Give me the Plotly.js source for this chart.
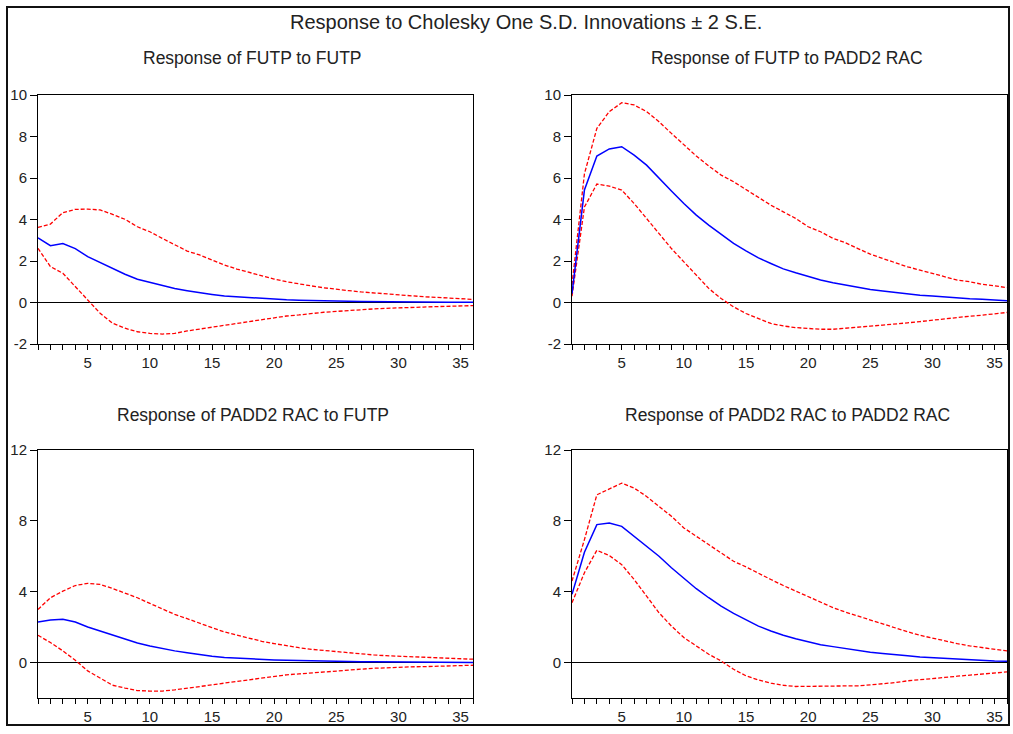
<!DOCTYPE html>
<html>
<head>
<meta charset="utf-8">
<script src="https://cdn.plot.ly/plotly-3.0.1.min.js"></script>
<style>
html, body { margin: 0; padding: 0; background: #ffffff; }
#chart { width: 1013px; height: 734px; }
</style>
</head>
<body>
<div id="chart"></div>
<script>
// Horizon (periods)
const periods = [1,2,3,4,5,6,7,8,9,10,11,12,13,14,15,16,17,18,19,20,21,22,23,24,25,26,27,28,29,30,31,32,33,34,35,36];

const mainTitle = "Response to Cholesky One S.D. Innovations \u00B1 2 S.E.";
const panelTitles = [
  "Response of FUTP to FUTP",
  "Response of FUTP to PADD2 RAC",
  "Response of PADD2 RAC to FUTP",
  "Response of PADD2 RAC to PADD2 RAC"
];

// Panel 1: FUTP to FUTP
const futpFutpResp  = [3.12,2.74,2.84,2.60,2.21,1.92,1.61,1.36,1.12,0.96,0.80,0.67,0.57,0.47,0.39,0.31,0.27,0.22,0.18,0.15,0.13,0.11,0.09,0.08,0.07,0.06,0.05,0.04,0.035,0.03,0.025,0.02,0.015,0.01,0.01,0.01];
const futpFutpUpper = [3.62,3.78,4.33,4.49,4.50,4.46,4.25,4.01,3.65,3.41,3.09,2.77,2.48,2.29,2.05,1.81,1.61,1.44,1.28,1.13,1.00,0.89,0.80,0.71,0.63,0.57,0.51,0.46,0.41,0.36,0.31,0.28,0.25,0.22,0.18,0.15];
const futpFutpLower = [2.61,1.73,1.41,0.76,0.12,-0.52,-1.00,-1.24,-1.41,-1.49,-1.52,-1.49,-1.37,-1.28,-1.16,-1.08,-1.00,-0.89,-0.81,-0.73,-0.65,-0.60,-0.52,-0.47,-0.43,-0.38,-0.35,-0.31,-0.28,-0.27,-0.23,-0.22,-0.20,-0.18,-0.17,-0.15];

// Panel 2: FUTP to PADD2 RAC
const futpRacResp  = [0.43,5.42,7.06,7.40,7.51,7.10,6.62,5.98,5.37,4.77,4.21,3.73,3.30,2.85,2.49,2.15,1.88,1.62,1.43,1.24,1.08,0.95,0.84,0.72,0.63,0.55,0.48,0.42,0.35,0.31,0.26,0.21,0.18,0.16,0.13,0.08];
const futpRacUpper = [0.85,6.20,8.39,9.20,9.63,9.52,9.20,8.71,8.15,7.59,7.06,6.58,6.14,5.82,5.45,5.10,4.69,4.37,4.05,3.65,3.41,3.09,2.88,2.60,2.33,2.12,1.91,1.72,1.56,1.40,1.24,1.08,1.00,0.88,0.80,0.72];
const futpRacLower = [0.30,4.60,5.71,5.61,5.42,4.77,4.05,3.33,2.60,1.96,1.32,0.68,0.19,-0.21,-0.53,-0.77,-1.01,-1.13,-1.21,-1.25,-1.29,-1.29,-1.25,-1.21,-1.14,-1.09,-1.05,-0.98,-0.92,-0.85,-0.79,-0.72,-0.66,-0.61,-0.56,-0.48];

// Panel 3: PADD2 RAC to FUTP
const racFutpResp  = [2.29,2.40,2.44,2.29,2.01,1.78,1.54,1.31,1.11,0.94,0.79,0.66,0.56,0.45,0.36,0.28,0.24,0.21,0.17,0.15,0.13,0.11,0.09,0.08,0.07,0.06,0.05,0.04,0.035,0.03,0.025,0.02,0.015,0.01,0.01,0.01];
const racFutpUpper = [3.00,3.66,4.03,4.35,4.47,4.41,4.18,3.94,3.66,3.34,3.04,2.72,2.48,2.21,1.97,1.73,1.54,1.35,1.20,1.07,0.94,0.84,0.75,0.68,0.60,0.54,0.49,0.43,0.39,0.36,0.32,0.28,0.26,0.23,0.21,0.19];
const racFutpLower = [1.54,1.13,0.66,0.13,-0.47,-0.90,-1.28,-1.44,-1.58,-1.61,-1.61,-1.54,-1.46,-1.37,-1.26,-1.16,-1.07,-0.96,-0.86,-0.77,-0.69,-0.64,-0.58,-0.53,-0.47,-0.41,-0.36,-0.32,-0.30,-0.26,-0.24,-0.23,-0.21,-0.19,-0.17,-0.15];

// Panel 4: PADD2 RAC to PADD2 RAC
const racRacResp  = [3.85,6.23,7.79,7.88,7.69,7.13,6.57,6.00,5.35,4.75,4.17,3.66,3.19,2.78,2.40,2.06,1.78,1.54,1.35,1.18,1.01,0.90,0.79,0.68,0.58,0.51,0.43,0.38,0.32,0.28,0.23,0.19,0.17,0.15,0.09,0.08];
const racRacUpper = [4.60,6.94,9.47,9.79,10.13,9.85,9.38,8.82,8.26,7.60,7.13,6.66,6.19,5.72,5.40,5.03,4.69,4.35,4.03,3.75,3.41,3.10,2.85,2.63,2.40,2.16,1.93,1.74,1.54,1.37,1.22,1.07,0.94,0.84,0.75,0.66];
const racRacLower = [3.38,5.07,6.34,6.04,5.53,4.69,3.75,2.81,2.06,1.41,0.94,0.47,0.09,-0.38,-0.75,-0.98,-1.16,-1.28,-1.35,-1.35,-1.35,-1.35,-1.33,-1.31,-1.26,-1.20,-1.13,-1.03,-0.98,-0.90,-0.84,-0.77,-0.71,-0.66,-0.62,-0.53];

const yTicksTop = [-2,0,2,4,6,8,10];
const yTickTextTop = ["-2","0","2","4","6","8","10"];
const yTicksBottom = [0,4,8,12];
const yTickTextBottom = ["0","4","8","12"];

const W = 1013, H = 734;
const FONT = '"Liberation Sans", Arial, sans-serif';
const px = v => v / W;
const py = v => 1 - v / H;

// pixel boxes of the four plot areas [left, right, top, bottom]
const boxes = [
  [38, 473, 95, 344],
  [572, 1007, 95, 344],
  [38, 473, 450, 698],
  [572, 1007, 450, 698]
];
const yRanges = [[-2,10],[-2,10],[-2,12],[-2,12]];
const yTickSets = [yTicksTop, yTicksTop, yTicksBottom, yTicksBottom];
const yTickTexts = [yTickTextTop, yTickTextTop, yTickTextBottom, yTickTextBottom];
const seriesSets = [
  [futpFutpResp, futpFutpUpper, futpFutpLower],
  [futpRacResp, futpRacUpper, futpRacLower],
  [racFutpResp, racFutpUpper, racFutpLower],
  [racRacResp, racRacUpper, racRacLower]
];

const traces = [];
const layout = {
  width: W, height: H,
  margin: {l: 0, r: 0, t: 0, b: 0},
  paper_bgcolor: '#ffffff',
  plot_bgcolor: '#ffffff',
  showlegend: false,
  font: {family: FONT, color: '#222'},
  annotations: [],
  shapes: []
};

seriesSets.forEach((s, i) => {
  const n = i + 1;
  const xa = 'x' + (n === 1 ? '' : n);
  const ya = 'y' + (n === 1 ? '' : n);
  const red = {color: '#ff0000', width: 1.3, dash: '4px,2px'};
  traces.push({x: periods, y: s[1], xaxis: xa, yaxis: ya, type: 'scatter', mode: 'lines', line: red, hoverinfo: 'skip'});
  traces.push({x: periods, y: s[2], xaxis: xa, yaxis: ya, type: 'scatter', mode: 'lines', line: red, hoverinfo: 'skip'});
  traces.push({x: periods, y: s[0], xaxis: xa, yaxis: ya, type: 'scatter', mode: 'lines', line: {color: '#0000ff', width: 1.5}, hoverinfo: 'skip'});

  const b = boxes[i];
  layout['xaxis' + (n === 1 ? '' : n)] = {
    domain: [px(b[0]), px(b[1])],
    anchor: ya,
    range: [1, 36],
    tick0: 0, dtick: 5,
    ticks: 'outside', ticklen: 5, tickwidth: 1, tickcolor: '#000',
    minor: {dtick: 1, tick0: 0, ticks: 'outside', ticklen: 5, tickwidth: 1, tickcolor: '#000', showgrid: false},
    showgrid: false, zeroline: false,
    showline: true, linecolor: '#000', linewidth: 1, mirror: true,
    tickfont: {family: FONT, size: 15, color: '#222'},
    fixedrange: true
  };
  layout['yaxis' + (n === 1 ? '' : n)] = {
    domain: [py(b[3]), py(b[2])],
    anchor: xa,
    range: yRanges[i],
    tickmode: 'array', tickvals: yTickSets[i], ticktext: yTickTexts[i],
    ticks: 'outside', ticklen: 7, tickwidth: 1, tickcolor: '#000',
    showgrid: false,
    zeroline: true, zerolinecolor: '#000', zerolinewidth: 1,
    showline: true, linecolor: '#000', linewidth: 1, mirror: true,
    tickfont: {family: FONT, size: 15, color: '#222'},
    fixedrange: true
  };
});

// Titles
layout.annotations.push({text: mainTitle, xref: 'paper', yref: 'paper', x: px(526), y: py(22), xanchor: 'center', yanchor: 'middle', showarrow: false, font: {family: FONT, size: 20, color: '#222'}});
const titlePos = [[252.5, 58], [787, 58], [252.5, 415], [787, 415]];
panelTitles.forEach((t, i) => {
  layout.annotations.push({text: t, xref: 'paper', yref: 'paper', x: px(titlePos[i][0]), y: py(titlePos[i][1]), xanchor: 'center', yanchor: 'middle', showarrow: false, font: {family: FONT, size: 17.5, color: '#222'}});
});

// Outer frame
layout.shapes.push({type: 'rect', xref: 'paper', yref: 'paper', x0: px(7), x1: px(1009), y0: py(725), y1: py(7), line: {color: '#111', width: 2}, fillcolor: 'rgba(0,0,0,0)'});

Plotly.newPlot('chart', traces, layout, {displayModeBar: false, staticPlot: true});
</script>
</body>
</html>
